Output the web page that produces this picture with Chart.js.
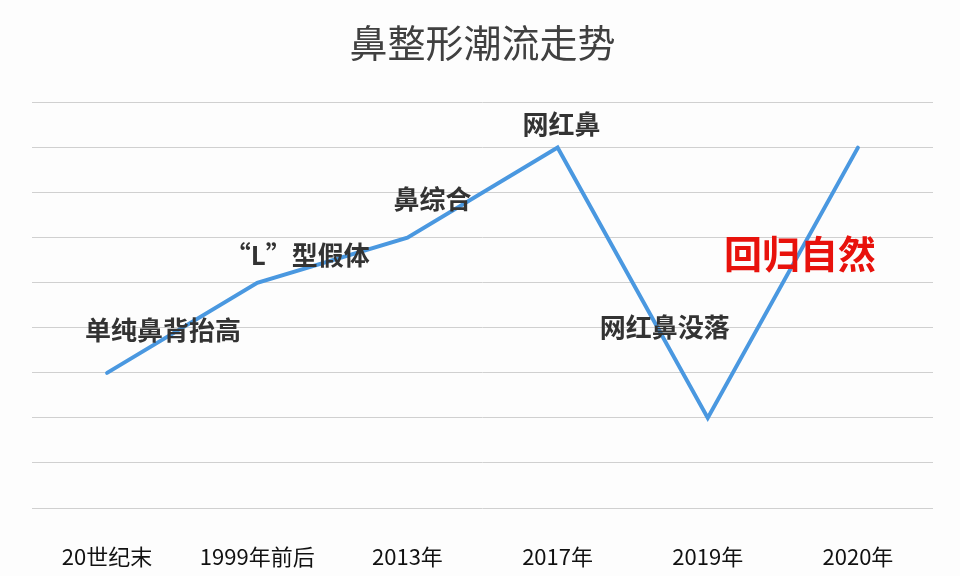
<!DOCTYPE html>
<html>
<head>
<meta charset="utf-8">
<script src="https://cdn.jsdelivr.net/npm/chart.js@4/dist/chart.umd.min.js"></script>
<style>
  html, body { margin: 0; padding: 0; background: #fdfdfd; }
  #wrap { width: 960px; height: 576px; }
</style>
</head>
<body>
<div id="wrap"><canvas id="c" width="960" height="576"></canvas></div>
<script>
const categories = ["20世纪末", "1999年前后", "2013年", "2017年", "2019年", "2020年"];
const trendValues = [3, 5, 6, 8, 2, 8];
const pointLabels = ["单纯鼻背抬高", "“L”型假体", "鼻综合", "网红鼻", "网红鼻没落", "回归自然"];
const titleText = "鼻整形潮流走势";

const labelStyles = [
  { dx: 56, dy: -43, color: "#333333", font: "bold 26px 'Noto Sans CJK SC'" },
  { dx: 40, dy: -28, color: "#333333", font: "bold 26px 'Noto Sans CJK SC'" },
  { dx: 25, dy: -39, color: "#333333", font: "bold 26px 'Noto Sans CJK SC'" },
  { dx: 4, dy: -24, color: "#333333", font: "bold 26px 'Noto Sans CJK SC'" },
  { dx: -43, dy: -91, color: "#333333", font: "bold 26px 'Noto Sans CJK SC'" },
  { dx: -58, dy: 106, color: "#e8120c", font: "bold 38px 'Noto Sans CJK SC'" }
];

const pointLabelPlugin = {
  id: "pointLabelPlugin",
  afterDatasetsDraw(chart) {
    const ctx = chart.ctx;
    const meta = chart.getDatasetMeta(0);
    ctx.save();
    ctx.textAlign = "center";
    ctx.textBaseline = "middle";
    meta.data.forEach((pt, i) => {
      const s = labelStyles[i];
      ctx.font = s.font;
      ctx.fillStyle = s.color;
      ctx.fillText(pointLabels[i], pt.x + s.dx, pt.y + s.dy);
    });
    ctx.restore();
  }
};

new Chart(document.getElementById("c"), {
  type: "line",
  data: {
    labels: categories,
    datasets: [{
      data: trendValues,
      borderColor: "#4a98e0",
      borderWidth: 4,
      pointRadius: 0,
      tension: 0,
      fill: false,
      borderCapStyle: "round",
      borderJoinStyle: "miter"
    }]
  },
  options: {
    responsive: false,
    animation: false,
    layout: { padding: { left: 32, right: 27, top: 0, bottom: 0 } },
    plugins: {
      legend: { display: false },
      tooltip: { enabled: false },
      title: {
        display: true,
        text: titleText,
        color: "#404040",
        font: { family: "'Noto Sans CJK SC'", size: 38, weight: "normal" },
        padding: { top: 20, bottom: 37 }
      }
    },
    scales: {
      x: {
        offset: true,
        grid: { display: false },
        border: { display: false },
        afterFit(scale) { scale.height = 68; },
        ticks: {
          color: "#111111",
          font: { family: "'Noto Sans CJK SC'", size: 22 },
          padding: 27,
          maxRotation: 0,
          autoSkip: false
        }
      },
      y: {
        min: 0,
        max: 9,
        ticks: { display: false, stepSize: 1 },
        grid: { color: "#d0d0d0", lineWidth: 1, drawTicks: false },
        border: { display: false }
      }
    }
  },
  plugins: [pointLabelPlugin]
});
</script>
</body>
</html>
